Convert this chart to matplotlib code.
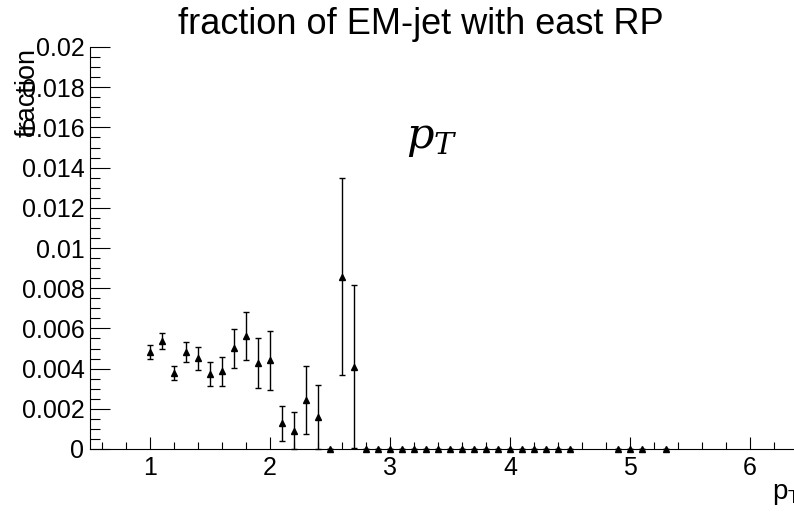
import numpy as np
import matplotlib
matplotlib.use("Agg")
import matplotlib.pyplot as plt
from matplotlib.ticker import MultipleLocator

plt.rcParams['font.family'] = ['Liberation Sans', 'DejaVu Sans']
plt.rcParams['mathtext.fontset'] = 'dejavuserif'

# bin centres (pT) and fraction with errors
pt = [1.0, 1.1, 1.2, 1.3, 1.4, 1.5, 1.6, 1.7, 1.8, 1.9, 2.0,
      2.1, 2.2, 2.3, 2.4, 2.5, 2.6, 2.7,
      2.8, 2.9, 3.0, 3.1, 3.2, 3.3, 3.4, 3.5, 3.6, 3.7, 3.8, 3.9,
      4.0, 4.1, 4.2, 4.3, 4.4, 4.5, 4.9, 5.0, 5.1, 5.3]
frac = [0.00481, 0.00537, 0.00378, 0.00481, 0.00451, 0.00372, 0.00387, 0.00501, 0.00564, 0.00426, 0.00441,
        0.00128, 0.00091, 0.00242, 0.00158, 0.0, 0.00857, 0.00410,
        0.0, 0.0, 0.0, 0.0, 0.0, 0.0, 0.0, 0.0, 0.0, 0.0, 0.0, 0.0,
        0.0, 0.0, 0.0, 0.0, 0.0, 0.0, 0.0, 0.0, 0.0, 0.0]
err = [0.00035, 0.00040, 0.00037, 0.00050, 0.00057, 0.00060, 0.00073, 0.00097, 0.00119, 0.00124, 0.00148,
       0.00087, 0.00093, 0.00169, 0.00158, 0.0, 0.00490, 0.00406,
       0.0, 0.0, 0.0, 0.0, 0.0, 0.0, 0.0, 0.0, 0.0, 0.0, 0.0, 0.0,
       0.0, 0.0, 0.0, 0.0, 0.0, 0.0, 0.0, 0.0, 0.0, 0.0]
ylabels = ['0', '0.002', '0.004', '0.006', '0.008', '0.01',
           '0.012', '0.014', '0.016', '0.018', '0.02']

pt = np.array(pt)
frac = np.array(frac)
err = np.array(err)
lo = np.minimum(err, frac)  # lower bar stops at zero

fig = plt.figure(figsize=(7.94, 5.13), dpi=100)
ax = fig.add_axes([90/794, 1-449/513, 1-90/794, (449-47)/513])

ax.errorbar(pt, frac, yerr=[lo, err], fmt='^', color='black', ms=5,
            elinewidth=1, capsize=2, capthick=1, clip_on=False)

ax.set_xlim(0.5, 0.5 + 704/120)
ax.set_ylim(0, 0.02)

ax.xaxis.set_major_locator(MultipleLocator(1))
ax.xaxis.set_minor_locator(MultipleLocator(0.2))
ax.yaxis.set_minor_locator(MultipleLocator(0.0005))
ax.set_yticks(np.arange(0, 0.0201, 0.002))
ax.set_yticklabels(ylabels)

ax.tick_params(axis='x', which='major', direction='in', length=9, width=0.8, labelsize=18, pad=5)
ax.tick_params(axis='x', which='minor', direction='in', length=4.8, width=0.8)
ax.tick_params(axis='y', which='major', direction='in', length=14.5, width=0.8, labelsize=18, pad=4)
ax.tick_params(axis='y', which='minor', direction='in', length=7.2, width=0.8)

ax.spines['top'].set_visible(False)
ax.spines['right'].set_visible(False)

fig.text(421/794, 1-24/513, 'fraction of EM-jet with east RP', ha='center', va='center', fontsize=26)
fig.text(28/794, 1-48/513, 'fraction', rotation=90, ha='center', va='top', fontsize=19.5)
fig.text(772/794, 1-494/513, 'p$_\\mathregular{T}$', ha='left', va='center', fontsize=20)
ax.text(3.35, 0.0154, '$p_T$', ha='center', va='center', fontsize=31)

fig.savefig('out.png', dpi=100)
